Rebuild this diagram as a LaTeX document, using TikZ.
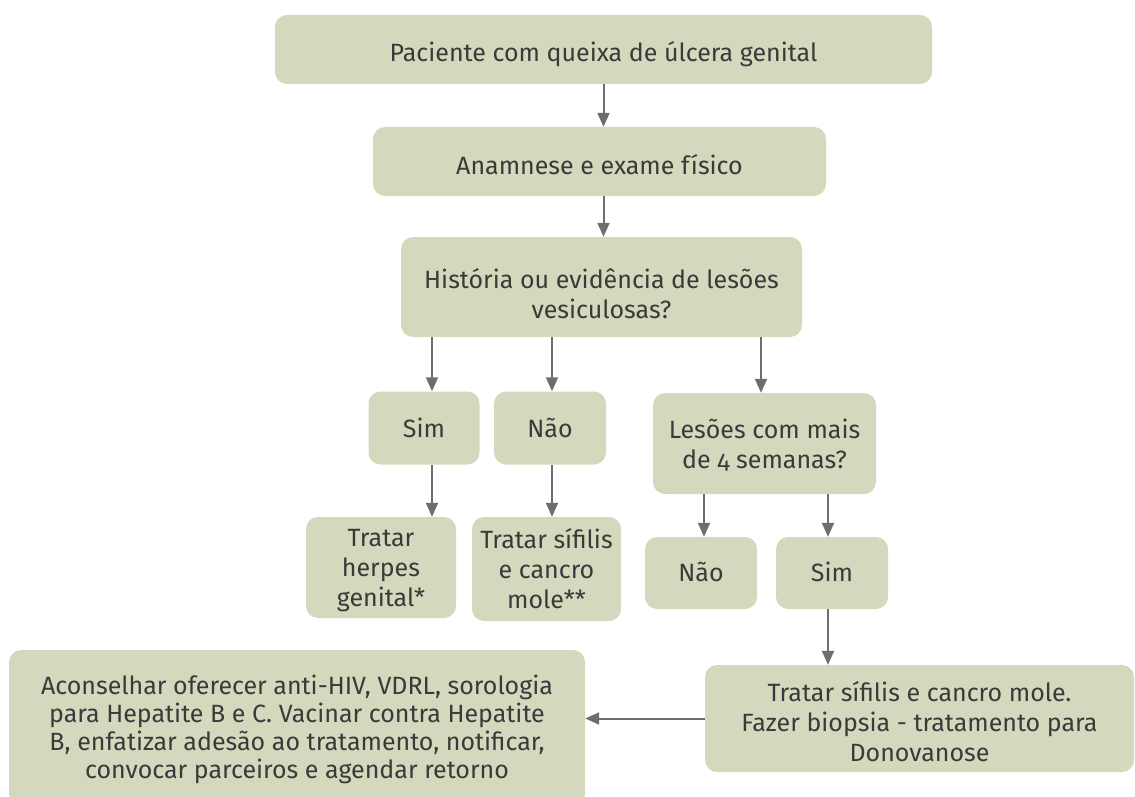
\documentclass[tikz,border=0pt]{standalone}
\usepackage{fontspec}
\setmainfont{Fira Sans}[Numbers=OldStyle]
\usetikzlibrary{arrows.meta}
\definecolor{boxfill}{HTML}{D5D8BD}
\definecolor{linec}{HTML}{6E6E6E}
\definecolor{textc}{HTML}{3A3A3A}
\newcommand{\fs}{\fontsize{25}{30}\selectfont}
\newcommand{\fsb}{\fontsize{25}{28}\selectfont}
\newcommand{\tp}[1]{\rule{0pt}{#1pt}}
\newcommand{\bt}{\rule[-8pt]{0pt}{0pt}}
\tikzset{
  box/.style={draw=none, fill=boxfill, rounded corners=12pt, align=center, text=textc, inner sep=0pt, font=\fs},
  arr/.style={draw=linec, line width=2pt, -{Triangle[width=12pt,length=14pt]}}
}
\begin{document}
\begin{tikzpicture}[x=1pt,y=-1pt]
\useasboundingbox (0,0) rectangle (1135,797);
\clip (0,0) rectangle (1135,797);
\node[box, minimum width=657, minimum height=69] (p1) at (603.5,49.5) {\tp{32}Paciente com queixa de úlcera genital\bt};
\node[box, minimum width=453, minimum height=69] (p2) at (599.5,161.5) {\tp{34}Anamnese e exame físico\bt};
\node[box, minimum width=401, minimum height=100] (p3) at (601.5,287) {\tp{40}História ou evidência de lesões\\vesiculosas?\bt};
\node[box, minimum width=111, minimum height=73] (sim1) at (424,428) {\tp{27}Sim\bt};
\node[box, minimum width=112, minimum height=73] (nao1) at (550,428) {\tp{27}Não\bt};
\node[box, minimum width=223, minimum height=101] (les) at (764.5,443.5) {\tp{28}Lesões com mais\\de 4 semanas?\bt};
\node[box, minimum width=150, minimum height=101] (herp) at (381,567.5) {\tp{26}Tratar\\herpes\\genital*\bt};
\node[box, minimum width=149, minimum height=104] (sif) at (546.5,569) {\tp{26}Tratar sífilis\\e cancro\\mole**\bt};
\node[box, minimum width=112, minimum height=72] (nao2) at (701,573) {\tp{25}Não\bt};
\node[box, minimum width=112, minimum height=72] (sim2) at (832,573) {\tp{25}Sim\bt};
\node[box, minimum width=429, minimum height=107] (trat) at (919.5,718.5) {\tp{34}Tratar sífilis e cancro mole.\\Fazer biopsia - tratamento para\\Donovanose\bt};
\node[box, font=\fsb, minimum width=576, minimum height=156] (acon) at (297,728) {\tp{25}Aconselhar oferecer anti-HIV, VDRL, sorologia\\para Hepatite B e C. Vacinar contra Hepatite\\B, enfatizar adesão ao tratamento, notificar,\\convocar parceiros e agendar retorno\bt};
\draw[arr] (p1.south) -- (p1.south |- p2.north);
\draw[arr] (p1.south |- p2.south) -- (p1.south |- p3.north);
\draw[arr] ([xshift=8]sim1.north |- p3.south) -- ([xshift=8]sim1.north);
\draw[arr] ([xshift=2]nao1.north |- p3.south) -- ([xshift=2]nao1.north);
\draw[arr] ([xshift=-3.5]les.north |- p3.south) -- ([xshift=-3.5]les.north);
\draw[arr] ([xshift=8]sim1.south) -- ([xshift=8]sim1.south |- herp.north);
\draw[arr] ([xshift=2]nao1.south) -- ([xshift=2]nao1.south |- sif.north);
\draw[arr] ([xshift=3]nao2.north |- les.south) -- ([xshift=3]nao2.north);
\draw[arr] ([xshift=-4]sim2.north |- les.south) -- ([xshift=-4]sim2.north);
\draw[arr] ([xshift=-4]sim2.south) -- ([xshift=-4]sim2.south |- trat.north);
\draw[arr] (trat.west) -- (acon.east |- trat.west);
\end{tikzpicture}
\end{document}
